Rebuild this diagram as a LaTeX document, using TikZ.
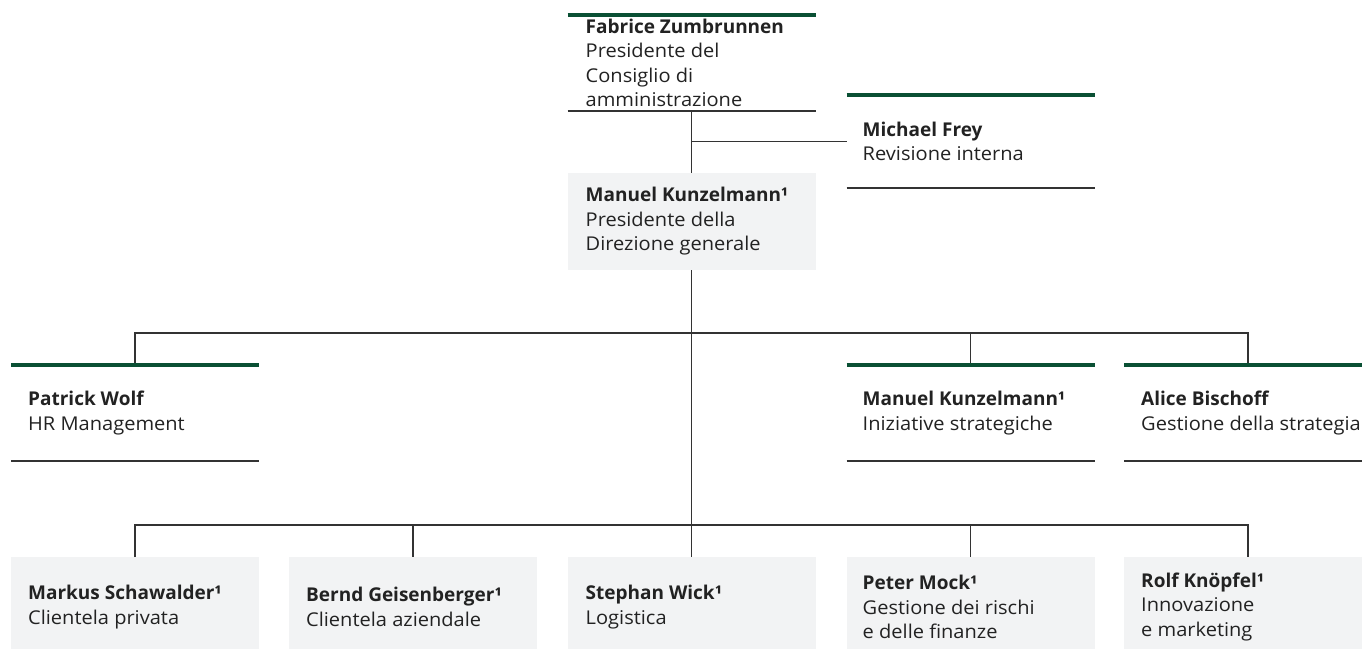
\documentclass[tikz,border=0pt]{standalone}
\usepackage{fontspec}
\setmainfont{Open Sans}[FakeStretch=1.055]
\newfontfamily\namefont{Open Sans}
\newcommand\nm[1]{{\namefont\bfseries #1}}
\definecolor{pgreen}{HTML}{0A5034}
\definecolor{pgray}{HTML}{F2F3F4}
\definecolor{pline}{HTML}{333333}
\definecolor{ptext}{HTML}{222222}
\tikzset{
  card/.style={minimum width=248pt, inner sep=0pt, outer sep=0pt},
  graybox/.style={card, fill=pgray},
  txt/.style={anchor=west, align=left, inner sep=0pt, text=ptext, font=\fontsize{19}{24.5}\selectfont},
  conn/.style={draw=pline, line width=1.1pt},
  gbar/.style={draw=pgreen, line width=4.5pt},
  rulel/.style={draw=pline, line width=1.1pt},
}
\begin{document}
\begin{tikzpicture}[x=1pt,y=-1pt]
\useasboundingbox (0,0) rectangle (1362,648);
\clip (0,0) rectangle (1362,648);
% top
\node[card, minimum height=96pt] (fab) at (691.5,63) {};
\node[txt] (fabt) at ([xshift=18pt]fab.west) {\nm{Fabrice Zumbrunnen}\\Presidente del\\Consiglio di\\amministrazione};
\node[card, minimum height=93pt] (mf) at (970.5,141.5) {};
\node[txt] (mft) at ([xshift=16pt]mf.west) {\nm{Michael Frey}\\Revisione interna};
\node[graybox, minimum height=97pt] (mk) at (691.5,221.5) {};
\node[txt] (mkt) at ([xshift=18pt]mk.west) {\nm{Manuel Kunzelmann¹}\\Presidente della\\Direzione generale};
% middle row
\node[card, minimum height=96pt] (pw) at (135,413) {};
\node[txt] (pwt) at ([xshift=17pt]pw.west) {\nm{Patrick Wolf}\\HR Management};
\node[card, minimum height=96pt] (mk2) at (970.5,413) {};
\node[txt] (mk2t) at ([xshift=16pt]mk2.west) {\nm{Manuel Kunzelmann¹}\\Iniziative strategiche};
\node[card, minimum height=96pt] (ab) at (1248,413) {};
\node[txt] (abt) at ([xshift=17pt]ab.west) {\nm{Alice Bischoff}\\Gestione della strategia};
% bottom row
\node[graybox, minimum height=100pt] (ms) at (135,607) {};
\node[txt] (mst) at ([xshift=17pt]ms.west) {\nm{Markus Schawalder¹}\\Clientela privata};
\node[graybox, minimum height=100pt] (bg) at (413,607) {};
\node[txt] (bgt) at ([xshift=17pt]bg.west) {\nm{Bernd Geisenberger¹}\\Clientela aziendale};
\node[graybox, minimum height=100pt] (sw) at (691.5,607) {};
\node[txt] (swt) at ([xshift=18pt]sw.west) {\nm{Stephan Wick¹}\\Logistica};
\node[graybox, minimum height=100pt] (pm) at (970.5,607) {};
\node[txt] (pmt) at ([xshift=16pt]pm.west) {\nm{Peter Mock¹}\\Gestione dei rischi\\e delle finanze};
\node[graybox, minimum height=100pt] (rk) at (1248,607) {};
\node[txt] (rkt) at ([xshift=17pt]rk.west) {\nm{Rolf Knöpfel¹}\\Innovazione\\e marketing};
% connectors
\coordinate (hb1) at (691.5,333);
\coordinate (hb2) at (691.5,525);
\draw[conn] (fab.south) -- (mk.north);
\draw[conn] (fab.south |- mf.west) -- (mf.west);
\draw[conn] (mk.south) -- (sw.north);
\draw[conn] (pw.north) -- (pw.north |- hb1) -- (ab.north |- hb1) -- (ab.north);
\draw[conn] (mk2.north |- hb1) -- (mk2.north);
\draw[conn] (ms.north) -- (ms.north |- hb2) -- (rk.north |- hb2) -- (rk.north);
\draw[conn] (bg.north |- hb2) -- (bg.north);
\draw[conn] (pm.north |- hb2) -- (pm.north);
% bars and rules
\foreach \n in {fab,mf,pw,mk2,ab}{
  \draw[gbar] (\n.north west) -- (\n.north east);
  \draw[rulel] (\n.south west) -- (\n.south east);
}
\end{tikzpicture}
\end{document}
